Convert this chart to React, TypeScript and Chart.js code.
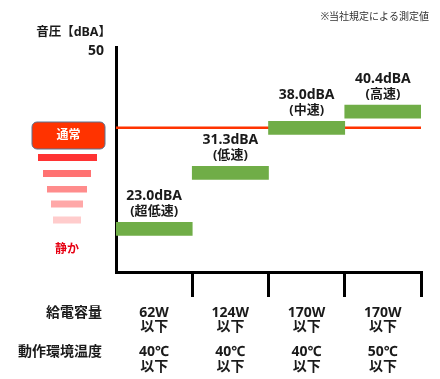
import React, { useEffect, useRef } from 'react';
import { Chart, registerables } from 'chart.js';

Chart.register(...registerables);

const speedLabels = ['超低速', '低速', '中速', '高速'];
const noiseValues = [23.0, 31.3, 38.0, 40.4];
const powerLabels = ['62W', '124W', '170W', '170W'];
const tempLabels = ['40℃', '40℃', '40℃', '50℃'];
const belowLabel = '以下';
const rowHeaders = ['給電容量', '動作環境温度'];
const yTickValues = [50];
const normalLevel = 38.0;
const Y_MIN = 16.6;
const Y_MAX = 50;
const BAR_HALF = 0.97;

const FONT = '"Noto Sans", "Noto Sans CJK JP", sans-serif';
const TEXT = '#1a1a1a';

const decorPlugin = {
  id: 'decor',
  beforeDatasetsDraw(chart: any) {
    const { ctx, chartArea, scales } = chart;
    const py = scales.y.getPixelForValue(normalLevel);
    ctx.save();
    ctx.strokeStyle = '#FF3300';
    ctx.lineWidth = 2.5;
    ctx.beginPath();
    ctx.moveTo(chartArea.left, py);
    ctx.lineTo(chartArea.right, py);
    ctx.stroke();
    ctx.restore();
  },
  afterDraw(chart: any) {
    const { ctx, chartArea, scales } = chart;
    const x = scales.x;
    const y = scales.y;
    ctx.save();
    ctx.textAlign = 'center';
    ctx.textBaseline = 'middle';
    ctx.fillStyle = TEXT;

    // bar labels
    noiseValues.forEach((v, i) => {
      const cx = x.getPixelForValue(i);
      const top = y.getPixelForValue(v + BAR_HALF);
      ctx.font = `bold 14px ${FONT}`;
      ctx.fillText(`${v.toFixed(1)}dBA`, cx, top - 26);
      ctx.font = `bold 13px ${FONT}`;
      ctx.fillText(`(${speedLabels[i]})`, cx, top - 11);
    });

    // bottom rows
    const b = chartArea.bottom;
    ctx.font = `bold 14px ${FONT}`;
    powerLabels.forEach((p, i) => {
      const cx = x.getPixelForValue(i);
      ctx.fillText(p, cx, b + 41);
      ctx.fillText(belowLabel, cx, b + 55.5);
      ctx.fillText(tempLabels[i], cx, b + 80);
      ctx.fillText(belowLabel, cx, b + 95);
    });
    ctx.textAlign = 'right';
    ctx.fillText(rowHeaders[0], 102, b + 41);
    ctx.fillText(rowHeaders[1], 102, b + 80);

    // title & note
    ctx.font = `bold 12.5px ${FONT}`;
    ctx.fillText('音圧【dBA】', 111, 32);
    ctx.font = `10px ${FONT}`;
    ctx.fillStyle = '#333';
    ctx.fillText('※当社規定による測定値', 429, 17);

    // left legend decoration
    ctx.fillStyle = '#FF3300';
    ctx.strokeStyle = '#5B7290';
    ctx.lineWidth = 1;
    ctx.beginPath();
    ctx.roundRect(32, 122, 73, 27, 5);
    ctx.fill();
    ctx.stroke();
    ctx.fillStyle = '#ffffff';
    ctx.textAlign = 'center';
    ctx.font = `bold 12px ${FONT}`;
    ctx.fillText('通常', 68.5, 136);

    const steps: [number, number, number, number, string][] = [
      [38, 154, 59, 7, '#FF3333'],
      [43, 170, 48, 7, '#FF7272'],
      [47, 186, 40, 6.5, '#FF8C8C'],
      [51, 200.5, 32, 7, '#FFA8A8'],
      [53, 216.5, 28, 7, '#FFCCCC'],
    ];
    steps.forEach(([sx, sy, w, h, c]) => {
      ctx.fillStyle = c;
      ctx.fillRect(sx, sy, w, h);
    });
    ctx.fillStyle = '#E60012';
    ctx.font = `bold 12px ${FONT}`;
    ctx.fillText('静か', 67, 250);
    ctx.restore();
  },
};

export default function App() {
  const ref = useRef<HTMLCanvasElement | null>(null);
  useEffect(() => {
    if (!ref.current) return;
    const chart = new Chart(ref.current, {
      type: 'bar',
      data: {
        labels: speedLabels,
        datasets: [
          {
            data: noiseValues.map((v) => [v - BAR_HALF, v + BAR_HALF]) as any,
            backgroundColor: '#70AD47',
            borderWidth: 0,
            borderSkipped: false,
            barPercentage: 1,
            categoryPercentage: 1,
          },
        ],
      },
      options: {
        animation: false,
        responsive: true,
        maintainAspectRatio: false,
        layout: { padding: { top: 47, right: 19, left: 0, bottom: 0 } },
        plugins: { legend: { display: false }, tooltip: { enabled: false } },
        scales: {
          x: {
            type: 'category',
            ticks: { display: false },
            grid: {
              display: true,
              offset: true,
              drawOnChartArea: false,
              drawTicks: true,
              tickLength: 25,
              lineWidth: 3,
              color: (c: any) => (c.index === 0 ? 'rgba(0,0,0,0)' : '#000'),
            },
            border: { display: true, color: '#000', width: 3 },
            afterFit: (s: any) => {
              s.height = 107;
            },
          },
          y: {
            type: 'linear',
            min: Y_MIN,
            max: Y_MAX,
            afterBuildTicks: (s: any) => {
              s.ticks = yTickValues.map((value) => ({ value }));
            },
            ticks: {
              padding: 4,
              labelOffset: 4,
              color: TEXT,
              font: { family: FONT, size: 14, weight: 'bold' },
            },
            grid: { display: false },
            border: { display: true, color: '#000', width: 3 },
            afterFit: (s: any) => {
              s.width = 116;
            },
          },
        },
      },
      plugins: [decorPlugin],
    });
    return () => chart.destroy();
  }, []);
  return (
    <div style={{ position: 'fixed', left: 0, top: 0, width: 440, height: 379, background: '#fff' }}>
      <canvas ref={ref} />
    </div>
  );
}
